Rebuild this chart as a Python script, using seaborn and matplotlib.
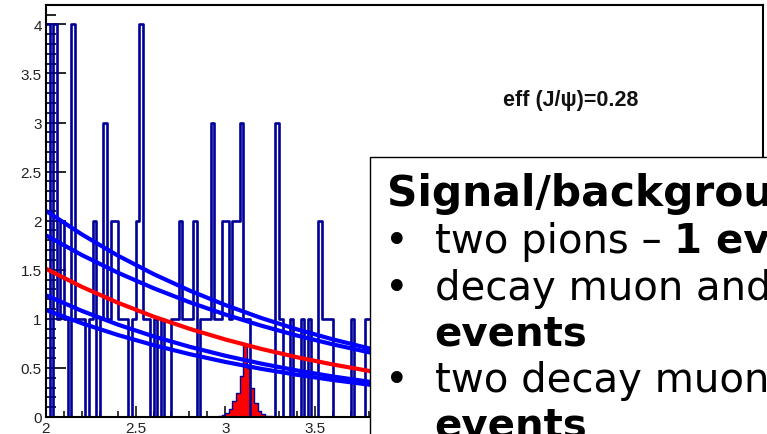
import numpy as np
import pandas as pd
import matplotlib
matplotlib.use("Agg")
import matplotlib.pyplot as plt
import seaborn as sns
from matplotlib.patches import Rectangle
from matplotlib.ticker import MultipleLocator, FuncFormatter

# ---------------- data ----------------
# background histogram: bins of 0.02 starting at 2.00 (visible part up to 3.80)
bin_edges = [round(v, 3) for v in np.linspace(2.0, 3.8, 91)]
background_counts = [4, 0, 4, 1, 2, 1, 0, 4, 1, 1,
                     1, 0, 1, 2, 0, 1, 3, 1, 2, 2,
                     1, 1, 1, 0, 1, 2, 4, 1, 1, 0,
                     1, 0, 1, 0, 0, 1, 1, 2, 1, 1,
                     1, 2, 0, 1, 1, 1, 3, 1, 1, 2,
                     2, 1, 2, 2, 3, 1, 1, 0, 0, 0,
                     0, 0, 0, 0, 3, 1, 0, 0, 1, 0,
                     0, 1, 0, 1, 0, 0, 2, 1, 1, 1,
                     0, 0, 0, 0, 0, 1, 0, 0, 0, 1]

# J/psi signal histogram (same 0.02 bins, from 2.96 to 3.26)
signal_edges = [round(v, 3) for v in np.linspace(2.96, 3.26, 16)]
signal_counts = [0.01, 0.02, 0.04, 0.08, 0.16, 0.24, 0.42, 0.73,
                 0.50, 0.30, 0.14, 0.06, 0.03, 0.01, 0.01]

# fitted curves read at x points
curve_x = [2.0, 2.2, 2.4, 2.6, 2.8, 3.0, 3.2, 3.4, 3.6, 3.8, 4.0]
curve_blue1 = [2.10, 1.86, 1.645, 1.456, 1.289, 1.141, 1.009, 0.893, 0.791, 0.700, 0.619]
curve_blue2 = [1.85, 1.650, 1.471, 1.312, 1.170, 1.044, 0.931, 0.830, 0.740, 0.660, 0.589]
curve_red = [1.51, 1.326, 1.165, 1.023, 0.899, 0.790, 0.694, 0.609, 0.535, 0.470, 0.413]
curve_blue3 = [1.24, 1.081, 0.942, 0.821, 0.716, 0.624, 0.544, 0.474, 0.413, 0.360, 0.314]
curve_blue4 = [1.09, 0.955, 0.836, 0.732, 0.641, 0.561, 0.491, 0.430, 0.377, 0.330, 0.289]

eff_label = "eff (J/\u03c8)=0.28"
box_title = "Signal/background"
line1_normal = "two pions \u2013"
line1_bold = "1 event"
line2_normal = "decay muon and"
line3_bold = "events"
line4_normal = "two decay muon"
line5_bold = "events"

# ---------------- style ----------------
sns.set_style("white")
plt.rcParams["font.family"] = ["Liberation Sans", "DejaVu Sans"]

NAVY = "#000099"
W, H = 767, 435

fig = plt.figure(figsize=(W / 100, H / 100), dpi=100)
ax = fig.add_axes([46 / W, 17 / H, 717 / W, 412.3 / H])

centers = [(a + b) / 2 for a, b in zip(bin_edges[:-1], bin_edges[1:])]
bg_df = pd.DataFrame({"mass": centers, "w": background_counts})
sns.histplot(data=bg_df, x="mass", weights="w", bins=bin_edges,
             element="step", fill=False, color=NAVY, linewidth=1.9, ax=ax)

s_centers = [(a + b) / 2 for a, b in zip(signal_edges[:-1], signal_edges[1:])]
sig_df = pd.DataFrame({"mass": s_centers, "w": signal_counts})
sns.histplot(data=sig_df, x="mass", weights="w", bins=signal_edges,
             element="step", fill=True, color="#ff0000", alpha=1.0,
             edgecolor=NAVY, linewidth=1.0, ax=ax)

curves = []
for name, vals in [("b1", curve_blue1), ("b2", curve_blue2), ("b3", curve_blue3),
                   ("b4", curve_blue4), ("r", curve_red)]:
    for xv, yv in zip(curve_x, vals):
        curves.append({"x": xv, "y": yv, "curve": name})
curve_df = pd.DataFrame(curves)
palette = {"b1": "#0000ff", "b2": "#0000ff", "b3": "#0000ff", "b4": "#0000ff", "r": "#ff0000"}
sns.lineplot(data=curve_df, x="x", y="y", hue="curve", palette=palette,
             linewidth=3.0, legend=False, ax=ax, sort=True)

ax.set_xlim(2.0, 6.0)
ax.set_ylim(0, 4.2)
ax.set_xlabel("")
ax.set_ylabel("")

yfmt = FuncFormatter(lambda v, p: "%g" % v)
# x labels beyond 3.5 lie under the text box in the original
xfmt = FuncFormatter(lambda v, p: ("%g" % v) if v < 3.75 else "")
ax.xaxis.set_major_locator(MultipleLocator(0.5))
ax.xaxis.set_minor_locator(MultipleLocator(0.1))
ax.yaxis.set_major_locator(MultipleLocator(0.5))
ax.yaxis.set_minor_locator(MultipleLocator(0.1))
ax.xaxis.set_major_formatter(xfmt)
ax.yaxis.set_major_formatter(yfmt)

ax.tick_params(axis="x", which="major", direction="in", length=8, width=1.3,
               pad=3, labelsize=11, labelcolor="#222222", top=False, bottom=True)
ax.tick_params(axis="x", which="minor", direction="in", length=4, width=1.3,
               top=False, bottom=True)
ax.tick_params(axis="y", which="major", direction="in", length=14.4, width=1.4,
               pad=3, labelsize=11, labelcolor="#222222", left=True, right=False)
ax.tick_params(axis="y", which="minor", direction="in", length=7.2, width=1.4,
               left=True, right=False)
for sp in ax.spines.values():
    sp.set_visible(True)
    sp.set_color("black")
    sp.set_linewidth(1.5)

# efficiency text
fig.text(571 / W, 1 - 106.5 / H, eff_label, ha="center", va="baseline",
         fontsize=15.5, fontweight="bold", color="#111111",
         family=["Liberation Sans", "DejaVu Sans"])

# overlay text box
box = Rectangle((370 / W, -0.05), 0.7, 1 - 157.5 / H + 0.05,
                transform=fig.transFigure, facecolor="white",
                edgecolor="black", linewidth=1.0, zorder=10, clip_on=False)
fig.add_artist(box)

tf = ["DejaVu Sans"]


def put(xpx, ybase, s, bold=False, fs=29):
    t = fig.text(xpx / W, 1 - ybase / H, s, ha="left", va="baseline",
                 fontsize=fs, fontweight="bold" if bold else "normal",
                 color="black", family=tf, zorder=11)
    t.set_clip_on(True)
    t.set_clip_box(fig.bbox)
    return t


put(387, 206, box_title, bold=True, fs=30.5)
put(385, 253, "\u2022")
put(435, 253, line1_normal)
put(674, 253, line1_bold, bold=True)
put(385, 300, "\u2022")
put(435, 300, line2_normal)
put(434, 345, line3_bold, bold=True)
put(385, 392, "\u2022")
put(435, 392, line4_normal)
put(434, 438, line5_bold, bold=True)

fig.savefig("out.png", dpi=100)
